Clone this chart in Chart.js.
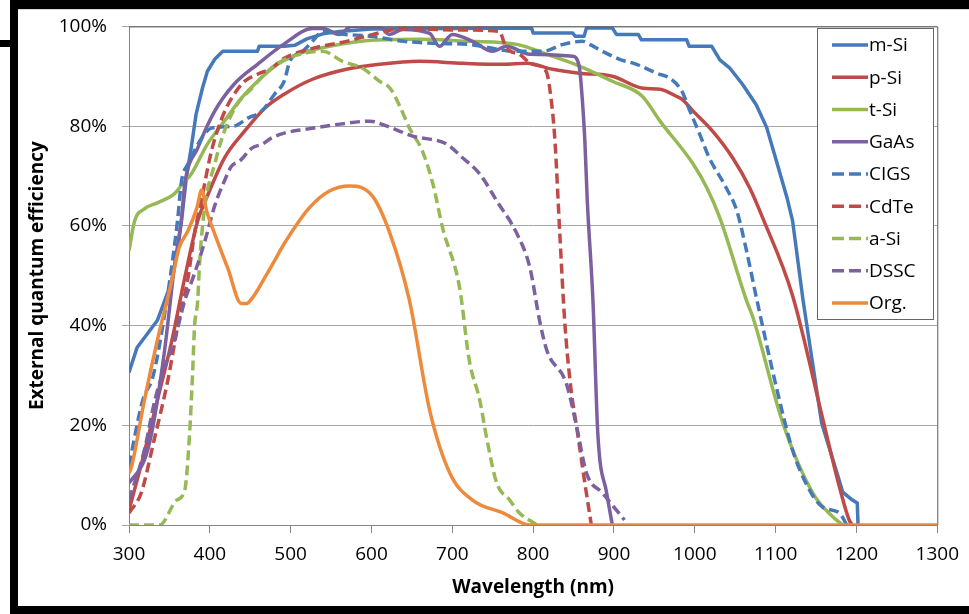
<!DOCTYPE html>
<html lang="en">
<head>
    <meta charset="UTF-8">
    <title>External quantum efficiency</title>
    <script src="https://cdn.jsdelivr.net/npm/chart.js"></script>
    <style>
        html, body {
            margin: 0;
            padding: 0;
            background: #fff;
        }
        #wrap {
            position: relative;
            width: 969px;
            height: 614px;
        }
    </style>
</head>
<body>
    <div id="wrap"><canvas id="qeChart"></canvas></div>

    <script>
        // wavelength (nm) / EQE (%) pairs per cell technology
        const seriesNames = ['m-Si', 'p-Si', 't-Si', 'GaAs', 'CIGS', 'CdTe', 'a-Si', 'DSSC', 'Org.'];

        const mSiNm = [300, 310, 323, 335, 352, 360, 365, 371, 377, 383, 391, 397, 406, 416, 459, 461, 492, 505, 520, 540, 560, 600, 700, 798, 800, 849, 852, 863, 866, 898, 903, 930, 934, 990, 993, 1021, 1031, 1043, 1059, 1076, 1089, 1101, 1114, 1121, 1134, 1157, 1176, 1183, 1195, 1201, 1202];
        const mSiQe = [30.6, 35.6, 38.4, 41, 48.4, 55, 61, 69.7, 75.7, 82.4, 87.7, 91, 93.4, 95, 95, 96, 96, 96.2, 97.5, 98.5, 99, 99.5, 99.6, 99.7, 98.7, 98.7, 98, 98, 99.7, 99.7, 98.4, 98.4, 97.3, 97.3, 96, 96, 93.3, 91.7, 88.4, 84.3, 79.7, 73, 65.7, 61, 45, 20.4, 10.4, 6.6, 5, 4.4, 0];

        const pSiNm = [300, 315, 335, 353, 369, 385, 397, 418, 443, 468, 492, 527, 569, 610, 659, 713, 763, 792, 824, 857, 898, 936, 957, 977, 984, 998, 1022, 1047, 1068, 1084, 1121, 1158, 1179, 1191, 1195];
        const pSiQe = [3, 12, 25, 37, 49.6, 61, 66, 73.6, 79, 83.6, 86.4, 89.4, 91.4, 92.4, 93, 92.6, 92.4, 92.6, 91.4, 90.6, 90, 87.6, 87.4, 86, 85.4, 83, 79, 73.6, 67.6, 61.6, 46, 21.5, 7.6, 1, 0];

        const tSiNm = [300, 307, 319, 335, 356, 366, 377, 397, 418, 439, 459, 484, 510, 548, 600, 659, 721, 780, 817, 858, 898, 935, 957, 998, 1015, 1031, 1064, 1072, 1109, 1146, 1171, 1183];
        const tSiQe = [55, 61, 63.4, 64.6, 66.4, 68.4, 70.4, 76.4, 81, 85.6, 89, 92.4, 94.5, 96, 97.2, 97.4, 97, 96.4, 94.4, 92, 89, 86, 81, 72.4, 67.6, 61.6, 45, 41.6, 20.4, 6.4, 1.6, 0];

        const gaAsNm = [300, 319, 328, 344, 356, 365, 369, 385, 406, 430, 459, 492, 527, 540, 560, 575, 610, 622, 639, 672, 684, 700, 725, 750, 767, 796, 849, 857, 861, 864, 867, 874, 880, 891, 898];
        const gaAsQe = [8.4, 13, 18.4, 35, 51.6, 61.6, 68.4, 75.6, 83, 88.4, 92.4, 96.5, 99.6, 99.6, 98.4, 100, 100, 98.4, 99.4, 98.6, 96, 98.4, 97, 95, 96, 94.4, 94, 92, 85, 77, 65, 45, 18.4, 6.4, 0];

        const cigsNm = [300, 317, 330, 348, 360, 365, 373, 390, 402, 430, 447, 464, 480, 492, 499, 515, 527, 540, 560, 600, 640, 680, 720, 780, 812, 837, 861, 870, 886, 907, 928, 953, 969, 984, 994, 1006, 1018, 1039, 1052, 1064, 1077, 1101, 1121, 1142, 1158, 1179, 1188];
        const cigsQe = [12, 25, 30, 46.4, 61, 69, 72.4, 77.6, 79.6, 80, 81.6, 83, 86.4, 89, 93, 95, 97, 99, 98.5, 98, 97, 96.6, 96.4, 95, 95, 96.4, 97, 96.4, 95, 93.4, 92.4, 90.6, 89.6, 87, 83, 78.4, 73.6, 67.6, 63, 55, 45, 27.6, 15, 7, 3.6, 2.4, 0];

        const cdTeNm = [300, 315, 331, 348, 360, 373, 381, 390, 402, 415, 427, 443, 459, 476, 492, 527, 569, 602, 639, 700, 758, 767, 783, 799, 816, 823, 827, 833, 839, 846, 855, 864, 872];
        const cdTeQe = [2.4, 6.4, 17, 29, 39.6, 49.6, 58.4, 65.5, 75, 81.6, 85.6, 89, 90.4, 91.6, 93.6, 95.6, 97, 98.4, 99.6, 99.3, 99, 95.6, 94.4, 92.4, 91, 84.4, 77, 58.4, 41, 28.4, 18.4, 8.4, 0];

        const aSiNm = [300, 338, 359, 369, 375, 379, 381, 385, 387, 393, 406, 418, 434, 452, 468, 484, 511, 540, 564, 589, 610, 623, 635, 647, 663, 676, 688, 709, 721, 734, 743, 755, 771, 783, 799, 805];
        const aSiQe = [0, 0, 5, 7, 18.4, 31.6, 39.6, 45, 51.6, 63, 72.4, 79, 84.4, 87.6, 90.4, 92.6, 94.4, 95, 93, 91.6, 89, 87.6, 84, 79.6, 75, 68.4, 59.6, 47.6, 33, 25, 17, 8.4, 5, 2.4, 0.6, 0];

        const dsscNm = [300, 319, 332, 344, 356, 369, 381, 394, 406, 418, 427, 437, 452, 465, 476, 492, 520, 561, 598, 619, 651, 693, 713, 734, 755, 780, 796, 808, 817, 841, 854, 866, 886, 903, 913];
        const dsscQe = [5, 15, 25, 31.6, 37, 45, 50.4, 57, 64, 69, 72, 73, 75.6, 76.4, 77.6, 78.6, 79.4, 80.4, 81, 80, 78, 76.4, 73.6, 70.4, 65, 58.4, 51.6, 41, 35, 28.4, 19.6, 10.4, 6.4, 3, 1];

        const orgNm = [300, 303, 319, 335, 353, 362, 373, 384, 390, 396, 406, 422, 439, 445, 452, 468, 478, 492, 523, 548, 573, 601, 623, 647, 672, 697, 725, 763, 796, 1300];
        const orgQe = [10.4, 11.6, 25, 37, 49, 55.6, 59, 63.6, 67.2, 63, 58.4, 51.6, 44.4, 44.4, 45.4, 49.6, 52.4, 56.4, 63.6, 67, 68, 66, 58.4, 45, 23, 10.4, 5, 2.4, 0, 0];

        const seriesNm = [mSiNm, pSiNm, tSiNm, gaAsNm, cigsNm, cdTeNm, aSiNm, dsscNm, orgNm];
        const seriesQe = [mSiQe, pSiQe, tSiQe, gaAsQe, cigsQe, cdTeQe, aSiQe, dsscQe, orgQe];

        const lineColors = ['#4579B9', '#BE4B48', '#96B955', '#7D60A0', '#4579B9', '#BE4B48', '#96B955', '#7D60A0', '#EE8A3C'];
        const dashed = [false, false, false, false, true, true, true, true, false];
        const dashPattern = [10, 5];

        const datasets = seriesNames.map((name, i) => ({
            label: name,
            data: seriesNm[i].map((nm, k) => ({ x: nm, y: seriesQe[i][k] })),
            borderColor: lineColors[i],
            backgroundColor: lineColors[i],
            borderWidth: 3.5,
            borderDash: dashed[i] ? dashPattern : [],
            borderJoinStyle: 'round',
            pointRadius: 0,
            pointHoverRadius: 0,
            tension: 0,
            cubicInterpolationMode: i === 0 ? 'default' : 'monotone',
            order: seriesNames.length - i
        }));

        const font = 'Open Sans';

        // white page with the black frame around it
        const framePlugin = {
            id: 'frame',
            beforeDraw(chart) {
                const ctx = chart.ctx;
                ctx.save();
                ctx.fillStyle = '#fff';
                ctx.fillRect(0, 0, chart.width, chart.height);
                ctx.fillStyle = '#d4d4d4';
                ctx.fillRect(18, 9, chart.width - 18, 1);
                ctx.fillStyle = '#000';
                ctx.fillRect(10, 0, chart.width - 10, 9);
                ctx.fillRect(10, 0, 8, chart.height);
                ctx.fillRect(10, 606, chart.width - 10, 8);
                ctx.fillRect(0, 40, 12, 7);
                ctx.restore();
            },
            afterDraw(chart) {
                const { left, top, right, bottom } = chart.chartArea;
                const ctx = chart.ctx;
                ctx.save();
                ctx.strokeStyle = '#5a5a5a';
                ctx.lineWidth = 1;
                ctx.beginPath();
                ctx.moveTo(left, top + 0.5);
                ctx.lineTo(right + 0.5, top + 0.5);
                ctx.lineTo(right + 0.5, bottom);
                ctx.stroke();
                ctx.restore();
            }
        };

        // legend box inside the plot, top right
        const legendPlugin = {
            id: 'legendBox',
            afterDraw(chart) {
                const ctx = chart.ctx;
                const x0 = 817, y0 = 28, w = 116, h = 291;
                ctx.save();
                ctx.fillStyle = '#fff';
                ctx.fillRect(x0, y0, w, h);
                ctx.strokeStyle = '#666';
                ctx.lineWidth = 1;
                ctx.strokeRect(x0 + 0.5, y0 + 0.5, w, h);
                ctx.font = '19px "' + font + '"';
                ctx.textBaseline = 'middle';
                ctx.textAlign = 'left';
                chart.data.datasets.forEach((ds, i) => {
                    const y = y0 + 17 + i * 32.25;
                    ctx.strokeStyle = ds.borderColor;
                    ctx.lineWidth = 3.5;
                    ctx.setLineDash(ds.borderDash.length ? [12, 5] : []);
                    ctx.beginPath();
                    ctx.moveTo(832, y);
                    ctx.lineTo(868, y);
                    ctx.stroke();
                    ctx.setLineDash([]);
                    ctx.fillStyle = '#000';
                    ctx.fillText(ds.label, 869, y + 1);
                });
                ctx.restore();
            }
        };

        const ctx = document.getElementById('qeChart').getContext('2d');
        new Chart(ctx, {
            type: 'line',
            data: { datasets },
            plugins: [framePlugin, legendPlugin],
            options: {
                responsive: true,
                maintainAspectRatio: false,
                animation: false,
                layout: { padding: { left: 0, top: 25, right: 31, bottom: 0 } },
                plugins: {
                    legend: { display: false },
                    tooltip: { enabled: false }
                },
                scales: {
                    x: {
                        type: 'linear',
                        min: 300,
                        max: 1300,
                        ticks: {
                            stepSize: 100,
                            autoSkip: false,
                            maxRotation: 0,
                            padding: 10,
                            color: '#000',
                            font: { family: font, size: 19 },
                            callback: v => String(v)
                        },
                        grid: { drawOnChartArea: false, tickLength: 8, color: '#868686' },
                        border: { color: '#868686' },
                        title: {
                            display: true,
                            text: 'Wavelength (nm)',
                            color: '#000',
                            font: { family: font, size: 19, weight: 'bold' },
                            padding: { top: 0, bottom: 15 }
                        },
                        afterFit: s => { s.height = 89; }
                    },
                    y: {
                        min: 0,
                        max: 100,
                        ticks: {
                            stepSize: 20,
                            padding: 15,
                            color: '#000',
                            font: { family: font, size: 19 },
                            callback: v => v + '%'
                        },
                        grid: { color: '#a6a6a6', tickLength: 7 },
                        border: { color: '#868686' },
                        title: {
                            display: true,
                            text: 'External quantum efficiency',
                            color: '#000',
                            font: { family: font, size: 19, weight: 'bold' },
                            padding: { top: 26, bottom: 0 }
                        },
                        afterFit: s => { s.width = 129; }
                    }
                }
            }
        });
    </script>
</body>
</html>
